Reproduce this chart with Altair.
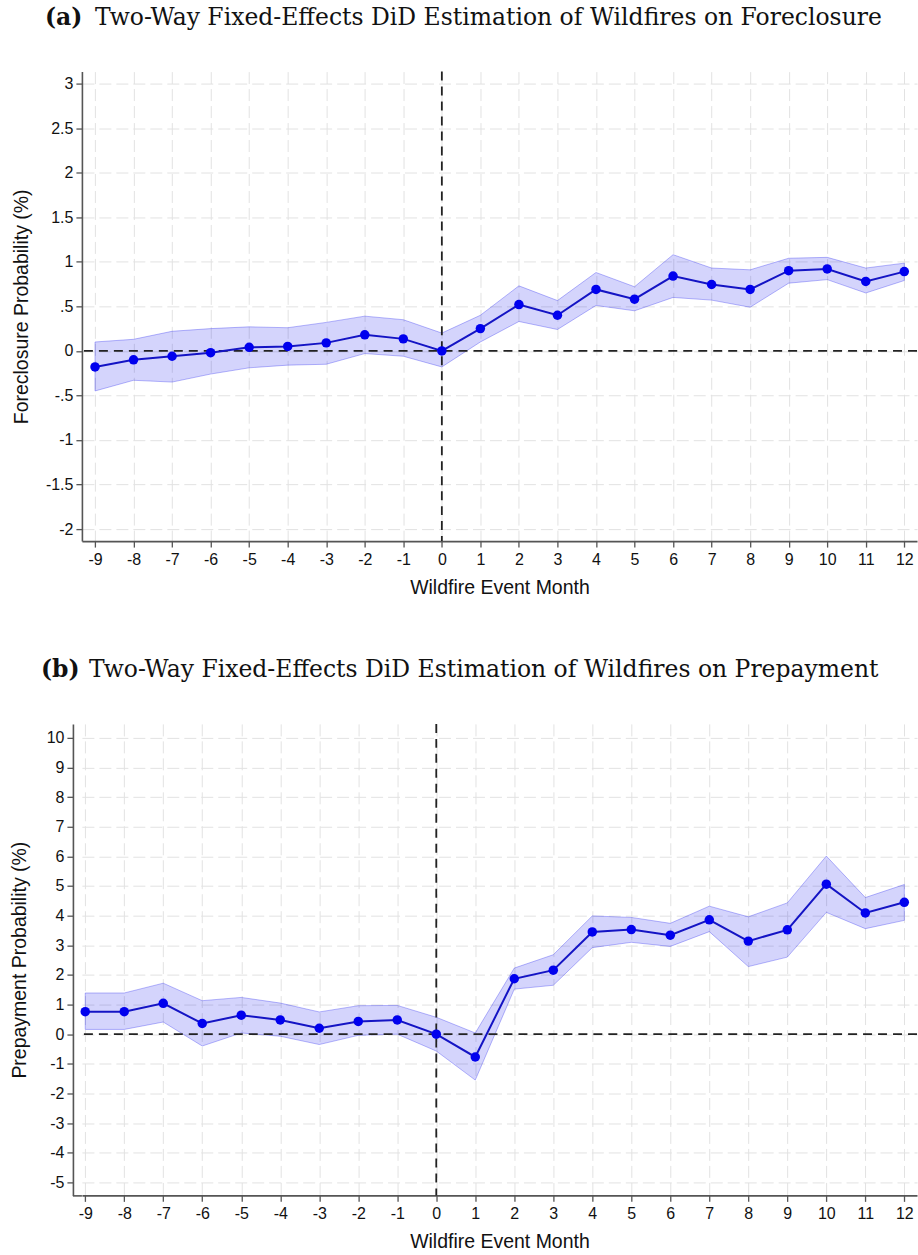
import altair as alt
import pandas as pd

# Event-time axis (months relative to the wildfire)
months = list(range(-9, 13))

# Panel (a): foreclosure probability (%), point estimates and 95% CI
fc_coef = [-0.18, -0.10, -0.06, -0.02, 0.04, 0.05, 0.09, 0.18, 0.135, 0.0, 0.25,
           0.52, 0.40, 0.69, 0.58, 0.84, 0.745, 0.69, 0.90, 0.92, 0.78, 0.89]
fc_upper = [0.10, 0.13, 0.22, 0.25, 0.27, 0.26, 0.32, 0.39, 0.35, 0.20, 0.40,
            0.73, 0.565, 0.88, 0.72, 1.08, 0.93, 0.91, 1.04, 1.05, 0.93, 0.985]
fc_lower = [-0.45, -0.33, -0.35, -0.26, -0.19, -0.16, -0.15, -0.03, -0.06, -0.18, 0.10,
            0.33, 0.24, 0.51, 0.45, 0.60, 0.57, 0.49, 0.76, 0.80, 0.65, 0.79]

# Panel (b): prepayment probability (%), point estimates and 95% CI
pp_coef = [0.76, 0.76, 1.04, 0.36, 0.64, 0.48, 0.20, 0.43, 0.48, 0.0, -0.77,
           1.87, 2.16, 3.45, 3.53, 3.34, 3.86, 3.14, 3.52, 5.06, 4.09, 4.45]
pp_upper = [1.39, 1.39, 1.72, 1.13, 1.24, 1.05, 0.75, 0.96, 0.97, 0.57, 0.04,
            2.23, 2.68, 3.99, 3.94, 3.74, 4.32, 3.96, 4.43, 6.01, 4.61, 5.05]
pp_lower = [0.16, 0.16, 0.41, -0.40, 0.04, -0.07, -0.35, -0.04, 0.00, -0.57, -1.55,
            1.52, 1.65, 2.92, 3.10, 2.96, 3.46, 2.28, 2.60, 4.11, 3.56, 3.84]

fc_ticks = [-2, -1.5, -1, -0.5, 0, 0.5, 1, 1.5, 2, 2.5, 3]
pp_ticks = list(range(-5, 11))

TAG_A = "(a)"
TAG_B = "(b)"
TITLE_A = "Two-Way Fixed-Effects DiD Estimation of Wildfires on Foreclosure"
TITLE_B = "Two-Way Fixed-Effects DiD Estimation of Wildfires on Prepayment"
X_TITLE = "Wildfire Event Month"
Y_TITLE_A = "Foreclosure Probability (%)"
Y_TITLE_B = "Prepayment Probability (%)"

SANS = "Liberation Sans"
SERIF = "DejaVu Serif"
BLUE = "#0000ee"
LINE_BLUE = "#1414c4"
AXIS_GREY = "#555555"

# plain hyphen minus, no leading zero on fractions (".5", "-.5")
PLAIN_LABEL = "toString(datum.value)"
SHORT_LABEL = "replace(toString(datum.value), '0.', '.')"


def panel(coef, lower, upper, tag, title, ytitle, ydomain, yticks, xdomain,
          width, height, tag_dx, title_dx, ytitle_pad, ylabel_expr, yoffset=0):
    df = pd.DataFrame({"month": months, "coef": coef, "lo": lower, "hi": upper})
    xscale = alt.Scale(domain=xdomain, nice=False, zero=False)
    yscale = alt.Scale(domain=ydomain, nice=False, zero=False)
    xaxis = alt.Axis(values=months, title=X_TITLE, titlePadding=11,
                     labelPadding=4, labelExpr=PLAIN_LABEL)
    yaxis = alt.Axis(values=yticks, title=ytitle, titlePadding=ytitle_pad,
                     labelExpr=ylabel_expr, offset=yoffset)

    def X(field):
        return alt.X(field, type="quantitative", scale=xscale, axis=xaxis)

    def Y(field):
        return alt.Y(field, type="quantitative", scale=yscale, axis=yaxis)

    base = alt.Chart(df)
    band = base.mark_area(
        color=BLUE, fillOpacity=0.17, stroke=BLUE, strokeOpacity=0.28, strokeWidth=1
    ).encode(x=X("month"), y=Y("lo"), y2="hi:Q")

    zero = pd.DataFrame({"month": [0], "coef": [0]})
    hrule = alt.Chart(zero).mark_rule(
        color="#222222", strokeWidth=1.8, strokeDash=[9, 6]
    ).encode(y=Y("coef"))
    vrule = alt.Chart(zero).mark_rule(
        color="#222222", strokeWidth=1.8, strokeDash=[9, 6]
    ).encode(x=X("month"))

    line = base.mark_line(color=LINE_BLUE, strokeWidth=2).encode(x=X("month"), y=Y("coef"))
    pts = base.mark_circle(color=BLUE, opacity=1, size=90).encode(x=X("month"), y=Y("coef"))

    head_tag = alt.Chart(pd.DataFrame({"t": [tag]})).mark_text(
        align="left", baseline="alphabetic", font=SERIF, fontSize=23.5,
        fontWeight="bold", color="#111111"
    ).encode(x=alt.value(tag_dx), y=alt.value(-47), text="t:N")
    head_txt = alt.Chart(pd.DataFrame({"t": [title]})).mark_text(
        align="left", baseline="alphabetic", font=SERIF, fontSize=23.5,
        fontWeight="normal", color="#111111"
    ).encode(x=alt.value(title_dx), y=alt.value(-47), text="t:N")

    layers = [band, hrule, vrule, line, pts, head_tag, head_txt]
    if yoffset:
        # carry the bottom axis line out to the displaced left axis
        corner = alt.Chart(pd.DataFrame({"t": [0]})).mark_rule(
            color=AXIS_GREY, strokeWidth=1.6
        ).encode(x=alt.value(-yoffset), x2=alt.value(0), y=alt.value(height + 0.5))
        layers.append(corner)

    return alt.layer(*layers).properties(width=width, height=height)


top = panel(fc_coef, fc_lower, fc_upper, TAG_A, TITLE_A, Y_TITLE_A,
            [-2.135, 3.135], fc_ticks, [-9.34, 12.33], 836, 470, -37, 13, 14,
            SHORT_LABEL)
bottom = panel(pp_coef, pp_lower, pp_upper, TAG_B, TITLE_B, Y_TITLE_B,
               [-5.44, 10.47], pp_ticks, [-9.085, 12.325], 836, 472, -41, 7, 17,
               PLAIN_LABEL, yoffset=9)

chart = alt.concat(top, bottom, columns=1, spacing=61, align="none").properties(
    padding={"left": 9, "top": 5, "right": 0, "bottom": 0},
    background="white",
).configure_view(stroke=None).configure_axis(
    labelFont=SANS, labelFontSize=16, labelColor="#111111",
    titleFont=SANS, titleFontSize=19.5, titleFontWeight="normal", titleColor="#111111",
    domainColor=AXIS_GREY, domainWidth=1.6, tickColor=AXIS_GREY, tickWidth=1.3,
    tickSize=6, labelPadding=3,
    grid=True, gridColor="#e2e2e2", gridDash=[12, 5], gridWidth=1,
)

chart.save("out.html", embed_options={"renderer": "svg", "actions": False})
